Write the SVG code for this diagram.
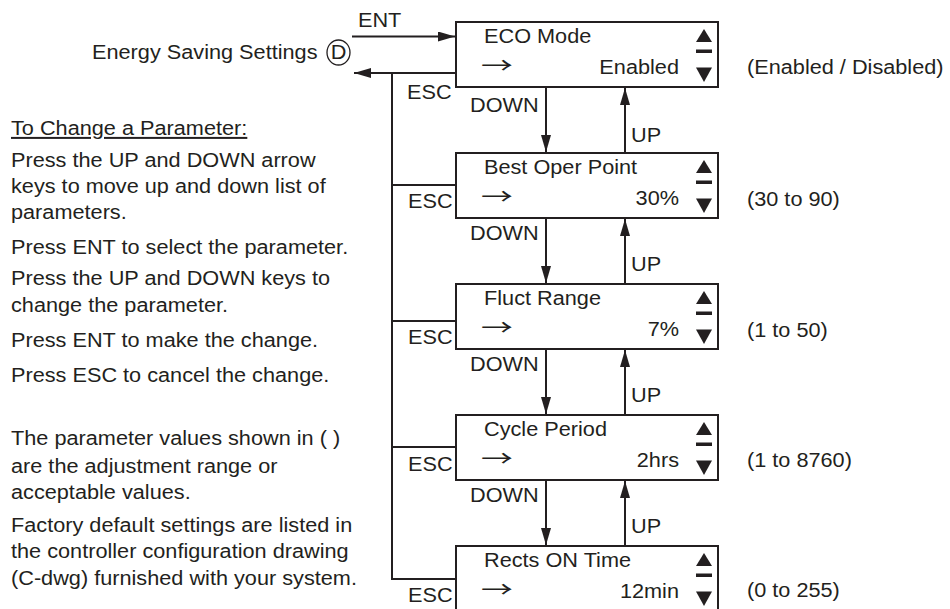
<svg xmlns="http://www.w3.org/2000/svg" width="950" height="609" viewBox="0 0 950 609">
<style>
text { font-family: "Liberation Sans", Arial, Helvetica, sans-serif; font-size: 20px; fill: #231f20; transform-box: fill-box; transform-origin: 0 0; transform: scaleX(1.085); }
text.end { text-anchor: end; transform-origin: 100% 0; }
text.mid { text-anchor: middle; transform-origin: 50% 0; }
text.arr { font-family: "Noto Sans CJK JP", "Noto Sans CJK SC", sans-serif; font-size: 22px; transform: scaleX(1.45); }
.box { fill: #ffffff; stroke: #231f20; stroke-width: 2; }
.ln { stroke: #231f20; stroke-width: 2; fill: none; }
.ic { fill: #231f20; }
</style>
<defs>
<marker id="ah" markerUnits="userSpaceOnUse" markerWidth="17" markerHeight="10" refX="17" refY="5" orient="auto">
<path d="M0,0 L17,5 L0,10 z" fill="#231f20"/>
</marker>
</defs>
<rect x="0" y="0" width="950" height="609" fill="#ffffff"/>

<g id="connectors">
<line class="ln" x1="352" y1="36.5" x2="455" y2="36.5" marker-end="url(#ah)"/>
<line class="ln" x1="456" y1="73" x2="354" y2="73" marker-end="url(#ah)"/>
<line class="ln" x1="392" y1="73" x2="392" y2="580"/>
<line class="ln" x1="391" y1="185" x2="456" y2="185"/>
<line class="ln" x1="391" y1="321" x2="456" y2="321"/>
<line class="ln" x1="391" y1="447" x2="456" y2="447"/>
<line class="ln" x1="391" y1="579" x2="456" y2="579"/>
<line class="ln" x1="546" y1="87" x2="546" y2="152" marker-end="url(#ah)"/>
<line class="ln" x1="546" y1="218" x2="546" y2="283" marker-end="url(#ah)"/>
<line class="ln" x1="546" y1="349" x2="546" y2="414" marker-end="url(#ah)"/>
<line class="ln" x1="546" y1="480" x2="546" y2="545" marker-end="url(#ah)"/>
<line class="ln" x1="625" y1="153" x2="625" y2="88" marker-end="url(#ah)"/>
<line class="ln" x1="625" y1="284" x2="625" y2="219" marker-end="url(#ah)"/>
<line class="ln" x1="625" y1="415" x2="625" y2="350" marker-end="url(#ah)"/>
<line class="ln" x1="625" y1="546" x2="625" y2="481" marker-end="url(#ah)"/>
<text x="358" y="27">ENT</text>
<text x="407" y="99">ESC</text>
<text x="408" y="208">ESC</text>
<text x="408" y="344">ESC</text>
<text x="408" y="471">ESC</text>
<text x="408" y="602">ESC</text>
<text x="470" y="112">DOWN</text>
<text x="631" y="142">UP</text>
<text x="470" y="240">DOWN</text>
<text x="631" y="271">UP</text>
<text x="470" y="371">DOWN</text>
<text x="631" y="402">UP</text>
<text x="470" y="502">DOWN</text>
<text x="631" y="533">UP</text>
</g>

<g id="energy-saving-settings">
<text x="92" y="59.5">Energy Saving Settings</text>
<ellipse cx="338.5" cy="52.5" rx="11.5" ry="12.5" fill="none" stroke="#231f20" stroke-width="1.3"/>
<text class="mid" x="338.5" y="59.5">D</text>
</g>

<g id="eco-mode">
<rect class="box" x="456" y="22" width="262" height="65"/>
<text x="484" y="43.5">ECO Mode</text>
<text class="arr" x="481" y="73.5">→</text>
<text class="end" x="679" y="74">Enabled</text>
<polygon class="ic" points="696,42 712,42 704,29"/>
<rect class="ic" x="696" y="49.5" width="16" height="3.5"/>
<polygon class="ic" points="696,67.5 712,67.5 704,82"/>
<text x="747" y="74">(Enabled / Disabled)</text>
</g>

<g id="best-oper-point">
<rect class="box" x="456" y="153" width="262" height="65"/>
<text x="484" y="174.5">Best Oper Point</text>
<text class="arr" x="481" y="204.5">→</text>
<text class="end" x="679" y="205">30%</text>
<polygon class="ic" points="696,173 712,173 704,160"/>
<rect class="ic" x="696" y="180.5" width="16" height="3.5"/>
<polygon class="ic" points="696,198.5 712,198.5 704,213"/>
<text x="747" y="206">(30 to 90)</text>
</g>

<g id="fluct-range">
<rect class="box" x="456" y="284" width="262" height="65"/>
<text x="484" y="305.5">Fluct Range</text>
<text class="arr" x="481" y="335.5">→</text>
<text class="end" x="679" y="336">7%</text>
<polygon class="ic" points="696,304 712,304 704,291"/>
<rect class="ic" x="696" y="311.5" width="16" height="3.5"/>
<polygon class="ic" points="696,329.5 712,329.5 704,344"/>
<text x="747" y="337">(1 to 50)</text>
</g>

<g id="cycle-period">
<rect class="box" x="456" y="415" width="262" height="65"/>
<text x="484" y="436.5">Cycle Period</text>
<text class="arr" x="481" y="466.5">→</text>
<text class="end" x="679" y="467">2hrs</text>
<polygon class="ic" points="696,435 712,435 704,422"/>
<rect class="ic" x="696" y="442.5" width="16" height="3.5"/>
<polygon class="ic" points="696,460.5 712,460.5 704,475"/>
<text x="747" y="467">(1 to 8760)</text>
</g>

<g id="rects-on-time">
<rect class="box" x="456" y="546" width="262" height="65"/>
<text x="484" y="567.5">Rects ON Time</text>
<text class="arr" x="481" y="597.5">→</text>
<text class="end" x="679" y="598">12min</text>
<polygon class="ic" points="696,566 712,566 704,553"/>
<rect class="ic" x="696" y="573.5" width="16" height="3.5"/>
<polygon class="ic" points="696,591.5 712,591.5 704,606"/>
<text x="747" y="597.5">(0 to 255)</text>
</g>

<g id="notes">
<text x="11" y="135" text-decoration="underline">To Change a Parameter:</text>
<text x="11" y="167">Press the UP and DOWN arrow</text>
<text x="11" y="193">keys to move up and down list of</text>
<text x="11" y="219">parameters.</text>
<text x="11" y="254">Press ENT to select the parameter.</text>
<text x="11" y="285">Press the UP and DOWN keys to</text>
<text x="11" y="312">change the parameter.</text>
<text x="11" y="347">Press ENT to make the change.</text>
<text x="11" y="382">Press ESC to cancel the change.</text>
<text x="11" y="445">The parameter values shown in ( )</text>
<text x="11" y="473">are the adjustment range or</text>
<text x="11" y="499">acceptable values.</text>
<text x="11" y="532">Factory default settings are listed in</text>
<text x="11" y="558">the controller configuration drawing</text>
<text x="11" y="585">(C-dwg) furnished with your system.</text>
</g>
</svg>
